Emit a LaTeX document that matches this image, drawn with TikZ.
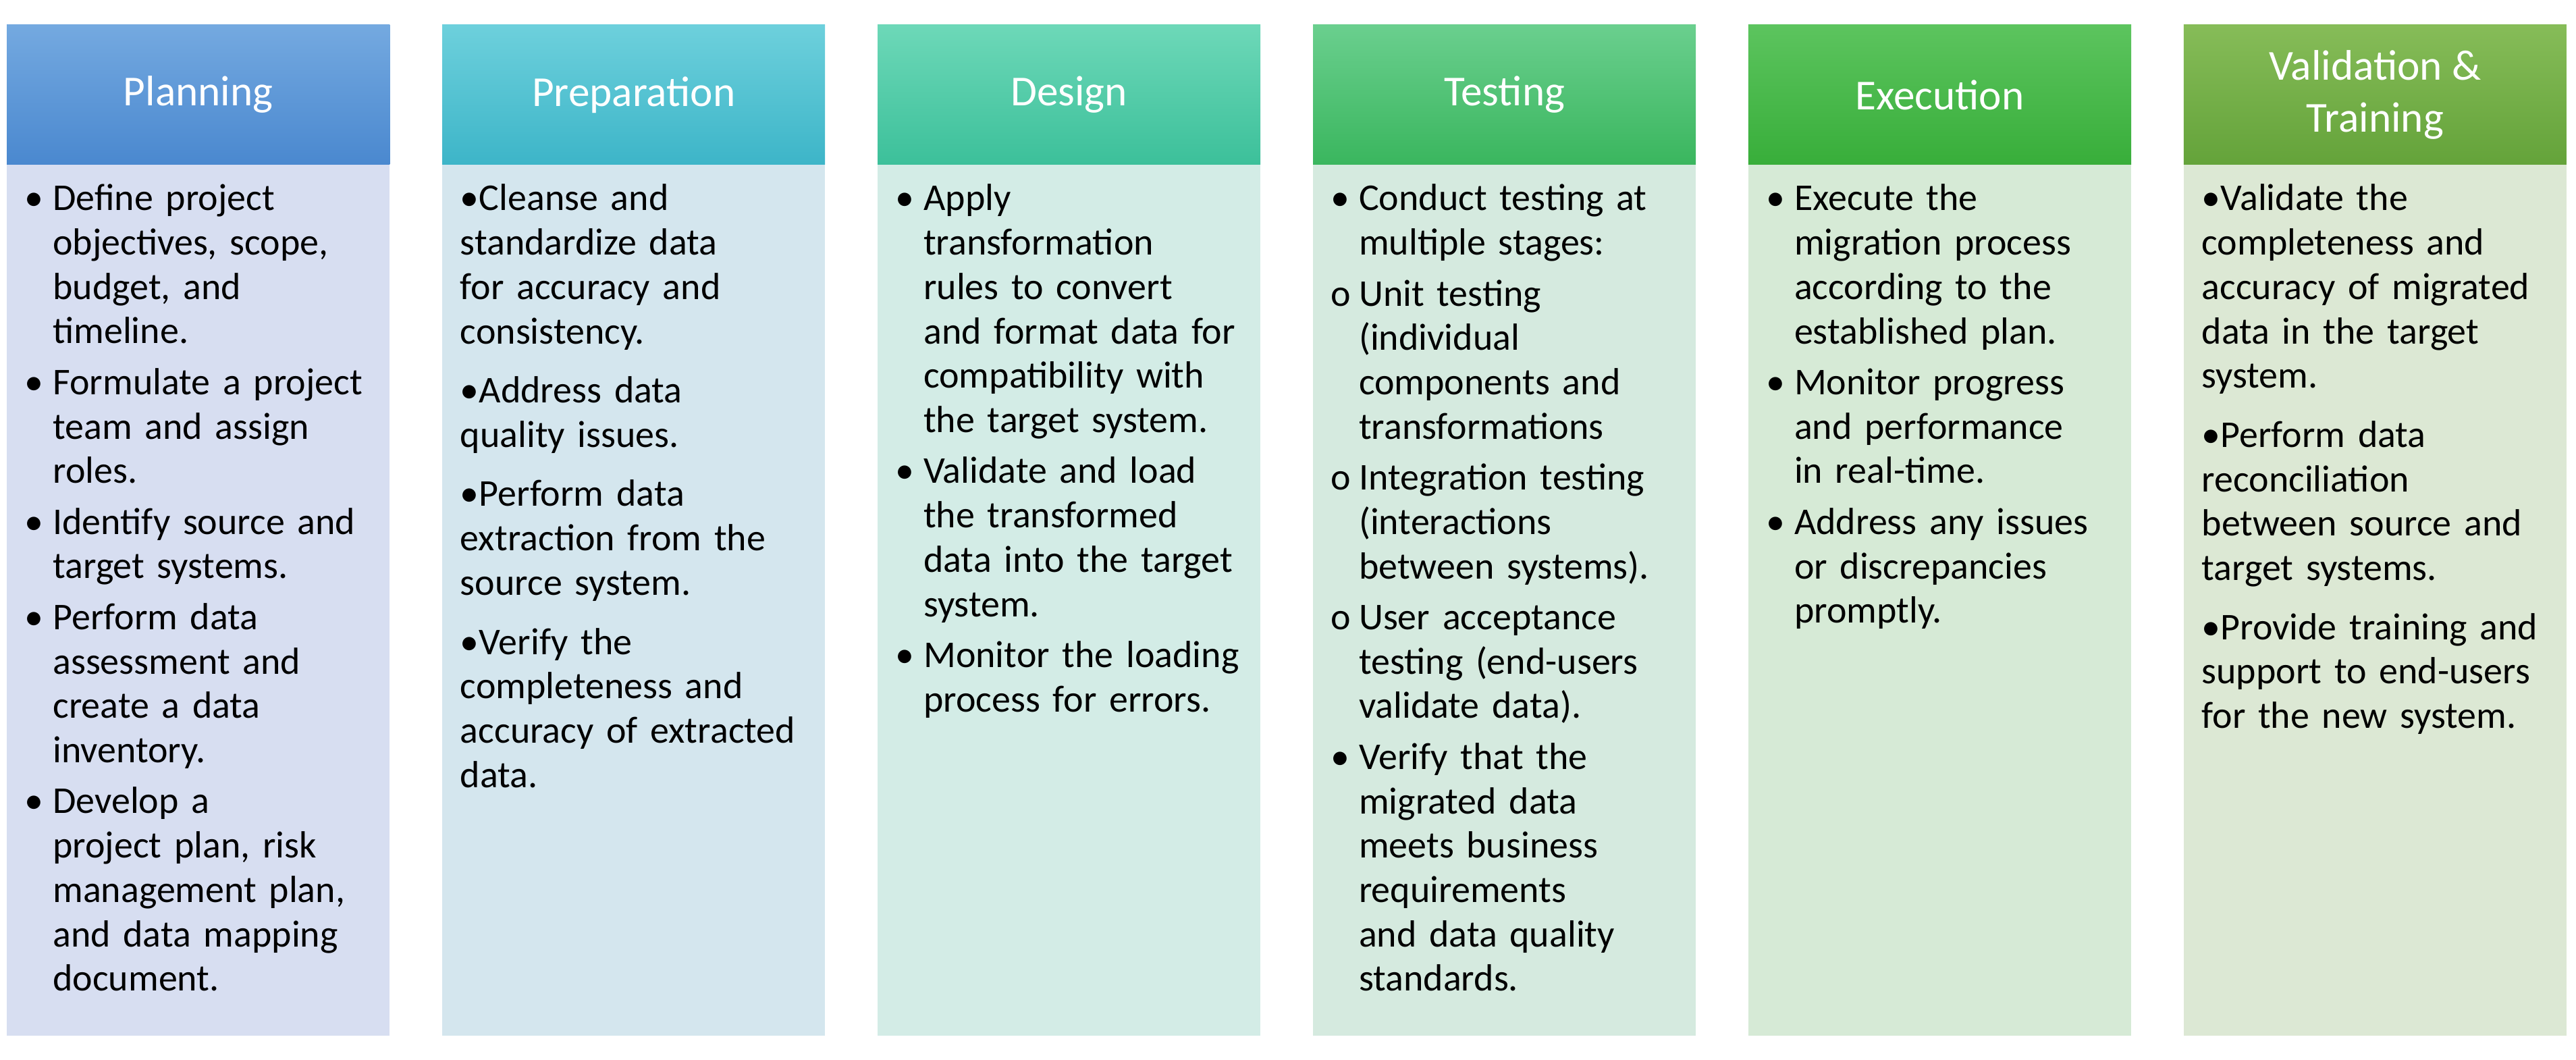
\documentclass[tikz,border=0pt]{standalone}
\usepackage{fontspec}
\setmainfont{Carlito}
\newcommand{\nohy}{\hyphenpenalty=10000 \exhyphenpenalty=10000 }
\newcommand{\bitem}[1]{\hangindent=17pt\hangafter=1\noindent\makebox[17pt][l]{•}#1\par}
\newcommand{\oitem}[1]{\hangindent=17pt\hangafter=1\noindent\makebox[17pt][l]{o}#1\par}
\newcommand{\pitem}[1]{\noindent•#1\par}
\definecolor{h1t}{HTML}{74A9E0}\definecolor{h1b}{HTML}{4A88CF}\definecolor{b1}{HTML}{D7DEF1}
\definecolor{h2t}{HTML}{6DD0DC}\definecolor{h2b}{HTML}{3DB5C8}\definecolor{b2}{HTML}{D4E6EE}
\definecolor{h3t}{HTML}{6DD8B8}\definecolor{h3b}{HTML}{3CC09A}\definecolor{b3}{HTML}{D3ECE6}
\definecolor{h4t}{HTML}{6ACF8E}\definecolor{h4b}{HTML}{3AB65E}\definecolor{b4}{HTML}{D5EADF}
\definecolor{h5t}{HTML}{5CC45E}\definecolor{h5b}{HTML}{38AE3A}\definecolor{b5}{HTML}{D6EAD6}
\definecolor{h6t}{HTML}{86BC58}\definecolor{h6b}{HTML}{64A33A}\definecolor{b6}{HTML}{DCE8D4}
\tikzset{
 hdr/.style={minimum width=233pt,minimum height=85pt,anchor=north west,inner sep=0pt,
   text=white,font=\fontsize{26}{32}\selectfont,align=center},
 bodybox/.style={minimum width=233pt,minimum height=530pt,anchor=north west,inner sep=0pt},
 txt/.style={anchor=north west,inner sep=0pt,text width=212pt,align=left,
   font=\fontsize{23}{27}\selectfont}
}
\begin{document}
\begin{tikzpicture}[x=1pt,y=-1pt]
\useasboundingbox (0,0) rectangle (1568,645);
\fill[white] (0,0) rectangle (1568,645);
\foreach \i/\x/\t in {1/4/Planning,2/269/Preparation,3/534/Design,4/799/Testing,5/1064/Execution,6/1329/{Validation \&\\Training}}{
  \node[bodybox,fill=b\i] (b\i) at (\x,100) {};
  \node[hdr,top color=h\i t,bottom color=h\i b] (h\i) at (\x,15) {\t};
}
\node[txt] (t1) at (15,112) {\nohy\setlength\parskip{4pt}%
\bitem{Define project objectives, scope, budget, and timeline.}
\bitem{Formulate a project team and assign roles.}
\bitem{Identify source and target systems.}
\bitem{Perform data assessment and create a data inventory.}
\bitem{Develop a project plan, risk management plan, and data mapping document.}};
\node[txt,text width=205pt] (t2) at (280,112) {\nohy\setlength\parskip{9pt}%
\pitem{Cleanse and standardize data for accuracy and consistency.}
\pitem{Address data quality issues.}
\pitem{Perform data extraction from the source system.}
\pitem{Verify the completeness and accuracy of extracted data.}};
\node[txt,text width=210pt] (t3) at (545,112) {\nohy\setlength\parskip{4pt}%
\bitem{Apply transformation rules to convert and format data for compatibility with the target system.}
\bitem{Validate and load the transformed data into the target system.}
\bitem{Monitor the loading process for errors.}};
\node[txt,text width=205pt] (t4) at (810,112) {\nohy\setlength\parskip{4pt}%
\bitem{Conduct testing at multiple stages:}
\oitem{Unit testing (individual components and transformations}
\oitem{Integration testing (interactions between systems).}
\oitem{User acceptance testing (end-users validate data).}
\bitem{Verify that the migrated data meets business requirements and data quality standards.}};
\node[txt,text width=205pt] (t5) at (1075,112) {\nohy\setlength\parskip{4pt}%
\bitem{Execute the migration process according to the established plan.}
\bitem{Monitor progress and performance in real-time.}
\bitem{Address any issues or discrepancies promptly.}};
\node[txt,text width=205pt] (t6) at (1340,112) {\nohy\setlength\parskip{9pt}%
\pitem{Validate the completeness and accuracy of migrated data in the target system.}
\pitem{Perform data reconciliation between source and target systems.}
\pitem{Provide training and support to end-users for the new system.}};
\end{tikzpicture}
\end{document}
